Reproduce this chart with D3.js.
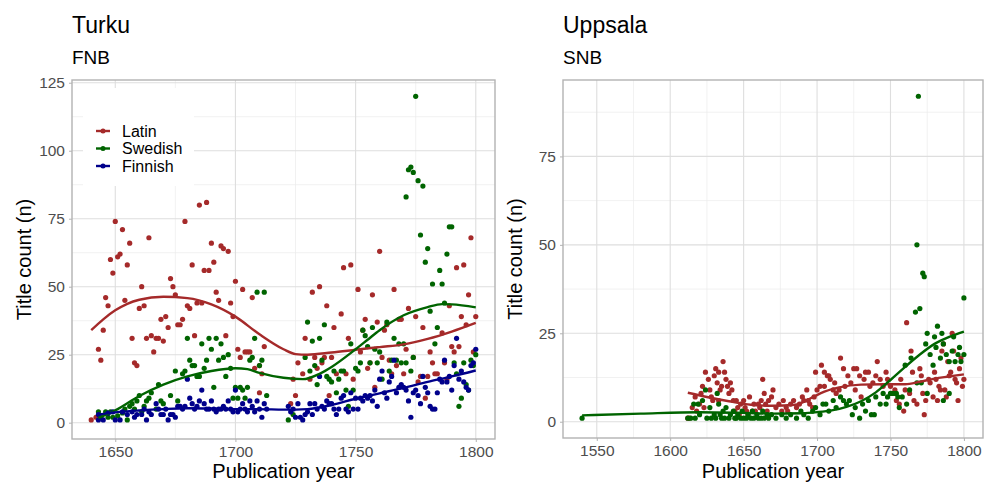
<!DOCTYPE html>
<html>
<head>
<meta charset="utf-8">
<script src="https://cdn.jsdelivr.net/npm/d3@7"></script>
<style>
  body { margin: 0; background: #fff; }
  svg { font-family: "Liberation Sans", Arial, sans-serif; }
</style>
</head>
<body>
<svg id="chart" width="1000" height="500"></svg>
<script>
// Turku (FNB) titles per year
const turkuLatin = [[1640,1],[1642,2],[1643,27],[1644,23],[1645,34],[1646,46],[1647,43],[1648,60],[1649,55],[1650,74],[1651,61],[1652,62],[1653,71],[1654,45],[1655,58],[1656,66],[1657,31],[1658,22],[1659,21],[1660,42],[1661,50],[1662,43],[1663,31],[1664,68],[1665,32],[1666,26],[1667,31],[1668,31],[1669,38],[1670,30],[1671,39],[1672,35],[1673,53],[1674,50],[1675,47],[1676,36],[1677,36],[1678,38],[1679,74],[1680,43],[1681,42],[1682,58],[1683,32],[1684,44],[1685,80],[1686,44],[1687,56],[1688,81],[1689,56],[1690,66],[1691,59],[1692,48],[1693,45],[1694,65],[1695,64],[1696,32],[1697,63],[1698,44],[1699,39],[1700,52],[1701,27],[1702,24],[1703,49],[1704,26],[1705,26],[1706,26],[1707,46],[1708,20],[1710,11],[1710,21],[1711,18],[1712,28],
  [1723,7],[1724,16],[1725,10],[1726,22],[1728,18],[1729,31],[1731,16],[1732,48],[1733,24],[1734,20],[1735,50],[1736,22],[1737,24],[1738,43],[1739,10],[1740,24],[1741,35],[1742,18],[1744,40],[1745,57],[1746,18],[1747,31],[1748,58],[1749,16],[1751,49],[1752,26],[1753,34],[1754,38],[1755,20],[1756,22],[1757,47],[1758,13],[1759,37],[1760,63],[1761,24],[1762,34],[1763,36],[1764,23],[1765,18],[1766,49],[1767,21],[1768,38],[1769,38],[1770,18],[1771,27],[1772,42],[1774,24],[1775,39],[1776,15],[1777,17],[1778,35],[1779,9],[1780,17],[1781,26],[1782,22],[1783,18],[1784,18],[1786,33],[1787,22],[1788,16],[1789,43],[1790,28],[1791,26],[1792,57],[1793,28],[1794,39],[1795,58],[1796,36],[1797,47],[1798,68],[1799,26],[1800,39]];
const turkuSwedish = [[1643,4],[1644,2],[1646,4],[1647,2],[1648,4],[1649,2],[1651,2.5],[1653,3.6],[1654,5],[1655,1],[1656,6],[1657,7],[1658,5],[1659,8],[1660,10],[1661,4],[1662,6],[1663,8],[1664,9],[1665,11],[1667,5],[1668,14],[1669,8],[1670,7],[1673,10],[1675,19],[1676,8],[1678,18],[1679,19],[1680,31],[1681,23],[1682,21],[1683,21],[1684,17],[1685,17],[1686,29],[1687,20],[1688,23],[1689,31],[1690,27],[1691,13],[1692,31],[1693,23],[1694,29],[1695,24],[1696,17],[1697,25],[1698,20],[1699,9],[1700,13],[1701,9],[1702,13],[1703,12],[1704,9],[1705,13],[1706,23],[1707,24],[1708,31],[1709,48],[1710,21],[1711,23],[1712,48],[1713,10],
  [1722,1],[1724,3],[1729,24],[1730,37],[1731,19],[1732,30],[1733,21],[1734,14],[1735,31],[1736,23],[1737,36],[1738,17],[1739,16],[1740,15],[1741,19],[1742,11],[1743,16],[1744,19],[1745,19],[1746,12],[1747,6],[1748,29],[1749,12],[1750,20],[1751,19],[1752,22],[1753,34],[1754,32],[1755,28],[1756,22],[1757,35],[1758,27],[1759,22],[1760,26],[1761,16],[1763,37],[1764,19],[1765,23],[1766,31],[1767,23],[1768,29],[1769,22],[1770,29],[1771,83],[1771,22],[1772,93],[1773,94],[1773,19],[1774,92],[1774,24],[1775,120],[1776,89],[1777,69],[1778,87],[1779,59],[1780,64],[1781,41],[1782,51],[1783,29],[1784,35],[1785,56],[1786,51],[1787,44],[1788,62],[1789,72],[1790,72],[1791,22],[1792,18],[1793,6],[1794,9],[1795,22],[1796,14],[1797,12],[1798,23],[1799,21],[1800,25]];
const turkuFinnish = [[1643,1],[1643,3],[1645,1],[1647,3.5],[1649,4],[1650,1],[1652,1],[1653,4],[1655,3],[1657,4],[1658,2],[1659,3],[1661,3],[1662,5],[1663,1],[1664,4],[1665,3],[1667,7],[1668,5],[1669,3],[1670,3],[1671,5],[1672,1],[1673,3],[1674,3],[1675,2],[1676,6],[1677,6],[1678,5],[1679,6],[1680,16],[1681,9],[1682,7],[1683,5],[1684,6],[1685,8],[1686,12],[1687,7],[1688,5],[1689,5],[1690,8],[1691,5],[1692,4],[1693,5],[1694,5],[1695,6],[1696,5],[1697,8],[1698,5],[1699,4],[1700,12],[1701,4],[1702,5],[1703,7],[1704,5],[1705,4],[1706,8],[1707,6],[1708,4],[1709,8],[1710,5],[1711,2],[1712,7],[1713,5],
  [1722,6],[1723,4],[1724,5],[1725,2],[1726,7],[1727,2],[1728,1],[1729,3],[1730,4],[1731,7],[1732,3],[1733,7],[1734,5],[1735,17],[1736,6],[1737,5],[1738,8],[1739,7],[1740,7],[1741,5],[1742,3],[1743,5],[1744,9],[1745,10],[1746,5],[1747,4],[1748,11],[1749,5],[1750,9],[1751,5],[1752,9],[1753,8],[1754,10],[1755,9],[1756,10],[1757,8],[1758,12],[1759,6],[1760,16],[1761,19],[1762,11],[1763,9],[1764,15],[1765,17],[1766,23],[1767,11],[1768,13],[1769,14],[1770,13],[1771,12],[1772,8],[1773,2],[1774,11],[1775,12],[1776,10],[1777,7],[1778,17],[1779,13],[1780,11],[1781,6],[1782,5],[1783,5],[1784,11],[1785,16],[1786,15],[1787,23],[1788,15],[1789,17],[1790,12],[1791,21],[1792,31],[1793,16],[1794,19],[1795,15],[1796,13],[1797,12],[1798,21],[1799,22],[1800,27]];

// Uppsala (SNB) titles per year
const uppsalaLatin = [[1612,1],[1613,1],[1615,4],[1617,7],[1618,3],[1620,5],[1621,8],[1622,10],[1623,4],[1624,14],[1626,12],[1627,9],[1628,7],[1629,6],[1630,13],[1631,15],[1632,11],[1633,14],[1633,6],[1634,9],[1635,10],[1636,17],[1637,14],[1638,12],[1639,10],[1640,8],[1641,11],[1642,9],[1643,6],[1644,3],[1645,6],[1646,4],[1647,2],[1648,5],[1650,6],[1651,4],[1652,3],[1653,2],[1654,7],[1656,3],[1657,5],[1658,3],[1660,5],[1661,4],[1662,6],[1663,12],[1664,8],[1665,5],[1666,3],[1667,6],[1669,7],[1670,9],[1672,4],[1674,5],[1676,3],[1677,6],[1679,4],[1680,3],[1682,5],[1684,6],[1686,4],[1688,5],[1690,7],[1691,6],[1693,9],[1694,6],[1695,5],[1697,4],[1698,7],[1699,14],[1700,9],[1702,10],[1703,16],[1705,14],[1705,10],[1707,13],[1708,13],[1709,12],[1711,9],[1712,11],[1713,8],[1715,9],[1716,18],[1718,15],[1719,10],[1721,13],[1723,11],[1725,15],[1726,9],[1727,15],[1729,13],[1730,7],[1732,12],[1733,14],[1735,14],[1736,10],[1738,11],[1740,13],[1741,17],[1743,12],[1745,10],[1747,14],[1748,12],[1750,10],[1751,8],[1753,9],[1754,6],[1756,5],[1757,12],[1759,3],[1760,9],[1761,28],[1763,8],[1764,20],[1765,14],[1766,6],[1768,5],[1770,15],[1771,13],[1772,8],[1773,2],[1774,6],[1776,12],[1777,11],[1779,7],[1780,14],[1781,12],[1782,6],[1783,10],[1784,9],[1785,20],[1786,22],[1787,9],[1788,7],[1789,17],[1790,13],[1791,14],[1792,25],[1793,20],[1794,12],[1795,11],[1796,6],[1797,15],[1798,18],[1799,10],[1800,12]];
const uppsalaSwedish = [[1540,1],[1612,1],[1614,1],[1616,5],[1617,1],[1619,5],[1620,2],[1622,6],[1624,9],[1625,1],[1627,4],[1628,1],[1630,2],[1631,1],[1632,8],[1633,5],[1634,2],[1635,1],[1636,3],[1637,1],[1638,4],[1640,1],[1641,2],[1643,3],[1644,1],[1645,1],[1646,2],[1648,1],[1649,3],[1650,1],[1652,1],[1653,2],[1655,1],[1656,3],[1657,1],[1659,2],[1660,1],[1662,1],[1663,3],[1664,1],[1666,2],[1667,1],[1669,2],[1672,1],[1676,2],[1679,1],[1682,2],[1686,1],[1689,3],[1691,2],[1694,1],[1697,3],[1699,4],[1702,2],[1704,5],[1706,5],[1708,3],[1711,6],[1713,4],[1716,7],[1718,6],[1720,5],[1722,6],[1724,2],[1726,4],[1729,1],[1731,5],[1733,3],[1735,6],[1737,2],[1739,2],[1740,7],[1743,5],[1745,8],[1747,5],[1748,7],[1750,8],[1752,8],[1754,8],[1755,7],[1756,4],[1758,7],[1760,16],[1761,5],[1763,9],[1764,18],[1767,31],[1768,11],[1768,50],[1769,92],[1770,32],[1771,11],[1772,42],[1773,41],[1774,22],[1775,8],[1775,25],[1777,19],[1779,16],[1780,24],[1781,21],[1782,27],[1784,18],[1785,25],[1786,22],[1786,6],[1788,19],[1790,17],[1790,8],[1792,20],[1793,24],[1794,17],[1796,19],[1797,21],[1798,17],[1800,35],[1800,19]];

// smoothed trend curves
const turkuLatinTrend = [[1640,34],[1645,38],[1650,41.3],[1655,43.7],[1660,45.2],[1670,46.3],[1680,45.8],[1690,43.5],[1700,39],[1710,32.5],[1720,27],[1725,25.2],[1730,25],[1740,25.8],[1750,26.8],[1760,27.8],[1770,28.8],[1780,30.8],[1790,33.5],[1800,36.7]];
const turkuSwedishTrend = [[1643,1.8],[1650,4.5],[1660,9.8],[1670,14],[1680,17],[1690,19],[1700,20],[1705,19.7],[1710,18.3],[1720,16.5],[1728,16],[1735,18],[1740,20.5],[1750,27],[1755,30.5],[1760,34],[1770,39.5],[1780,42.5],[1786,43.6],[1790,43.5],[1800,42.4]];
const turkuFinnishTrend = [[1643,3],[1650,3.8],[1660,4.5],[1670,5],[1680,5.3],[1690,5.2],[1700,5],[1710,5],[1720,4.8],[1730,5],[1740,6.5],[1750,8.8],[1760,10.8],[1770,12.8],[1780,15],[1790,17],[1800,19.2]];
const uppsalaLatinTrend = [[1612,8.2],[1625,7],[1640,5.8],[1655,4.8],[1670,4.5],[1685,4.8],[1695,6.5],[1705,8.5],[1715,9.7],[1730,10.5],[1745,10.6],[1760,10.6],[1770,11.3],[1780,12.2],[1790,12.8],[1800,13.4]];
const uppsalaSwedishTrend = [[1540,1.8],[1580,2.3],[1620,2.7],[1650,2.5],[1670,2.3],[1690,2.4],[1700,2.7],[1710,3.2],[1720,4.2],[1730,5.8],[1740,8.3],[1750,11.8],[1760,15.5],[1770,19],[1780,22],[1790,24],[1800,25.5]];

const languages = ["Latin", "Swedish", "Finnish"];
const colors = { Latin: "#a52a2a", Swedish: "#006400", Finnish: "#00008b" };

const svg = d3.select("#chart");

function drawPanel(p) {
  const x = d3.scaleLinear().domain(p.xDomain).range([p.left, p.right]);
  const y = d3.scaleLinear().domain(p.yDomain).range([p.bottom, p.top]);
  const g = svg.append("g");

  // minor grid
  g.selectAll(".mx").data(p.xMinor).join("line")
    .attr("x1", d => x(d)).attr("x2", d => x(d))
    .attr("y1", p.top).attr("y2", p.bottom)
    .attr("stroke", "#ebebeb").attr("stroke-width", 0.7);
  g.selectAll(".my").data(p.yMinor).join("line")
    .attr("x1", p.left).attr("x2", p.right)
    .attr("y1", d => y(d)).attr("y2", d => y(d))
    .attr("stroke", "#ebebeb").attr("stroke-width", 0.7);

  // major grid
  g.selectAll(".gx").data(p.xTicks).join("line")
    .attr("x1", d => x(d)).attr("x2", d => x(d))
    .attr("y1", p.top).attr("y2", p.bottom)
    .attr("stroke", "#dedede").attr("stroke-width", 1.1);
  g.selectAll(".gy").data(p.yTicks).join("line")
    .attr("x1", p.left).attr("x2", p.right)
    .attr("y1", d => y(d)).attr("y2", d => y(d))
    .attr("stroke", "#dedede").attr("stroke-width", 1.1);

  // legend box hides the grid under it
  if (p.legend) {
    g.append("rect").attr("x", 83).attr("y", 88).attr("width", 111).attr("height", 98).attr("fill", "#fff");
  }

  // points
  p.series.forEach(s => {
    g.append("g").selectAll("circle").data(s.points).join("circle")
      .attr("cx", d => x(d[0])).attr("cy", d => y(d[1]))
      .attr("r", 2.6).attr("fill", colors[s.lang]);
  });

  // trend lines
  const line = d3.line().x(d => x(d[0])).y(d => y(d[1])).curve(d3.curveMonotoneX);
  p.series.forEach(s => {
    g.append("path").datum(s.trend).attr("d", line)
      .attr("fill", "none").attr("stroke", colors[s.lang]).attr("stroke-width", 2.4);
  });

  // border
  g.append("rect").attr("x", p.left).attr("y", p.top)
    .attr("width", p.right - p.left).attr("height", p.bottom - p.top)
    .attr("fill", "none").attr("stroke", "#b3b3b3").attr("stroke-width", 1.4);

  // axes
  const xAxis = g.append("g").attr("transform", `translate(0,${p.bottom})`)
    .call(d3.axisBottom(x).tickValues(p.xTicks).tickFormat(d3.format("d")).tickSize(3).tickPadding(4));
  const yAxis = g.append("g").attr("transform", `translate(${p.left},0)`)
    .call(d3.axisLeft(y).tickValues(p.yTicks).tickSize(3).tickPadding(4));
  [xAxis, yAxis].forEach(a => {
    a.select(".domain").remove();
    a.selectAll(".tick line").attr("stroke", "#b3b3b3");
    a.selectAll(".tick text").attr("fill", "#4d4d4d").style("font-size", "15.5px")
      .style("font-family", "Liberation Sans, Arial, sans-serif");
  });

  // titles
  svg.append("text").attr("x", p.left).attr("y", 33).text(p.title)
    .style("font-size", "23px").attr("fill", "#000");
  svg.append("text").attr("x", p.left).attr("y", 64).text(p.subtitle)
    .style("font-size", "19px").attr("fill", "#000");
  svg.append("text").attr("x", (p.left + p.right) / 2).attr("y", 478)
    .attr("text-anchor", "middle").text("Publication year")
    .style("font-size", "20px").attr("fill", "#000");
  svg.append("text")
    .attr("transform", `translate(${p.left - 41},${(p.top + p.bottom) / 2}) rotate(-90)`)
    .attr("text-anchor", "middle").text("Title count (n)")
    .style("font-size", "20px").attr("fill", "#000");

  // legend
  if (p.legend) {
    languages.forEach((lang, i) => {
      const cy = 131 + i * 17.5;
      g.append("line").attr("x1", 96).attr("x2", 110).attr("y1", cy).attr("y2", cy)
        .attr("stroke", colors[lang]).attr("stroke-width", 2.4);
      g.append("circle").attr("cx", 103).attr("cy", cy).attr("r", 2.5).attr("fill", colors[lang]);
      g.append("text").attr("x", 122).attr("y", cy + 5.5).text(lang)
        .style("font-size", "16px").attr("fill", "#000");
    });
  }
}

drawPanel({
  title: "Turku", subtitle: "FNB", legend: true,
  left: 72, right: 495, top: 80, bottom: 439,
  xDomain: [1632, 1808], yDomain: [-6, 126],
  xTicks: [1650, 1700, 1750, 1800], xMinor: [1675, 1725, 1775],
  yTicks: [0, 25, 50, 75, 100, 125], yMinor: [12.5, 37.5, 62.5, 87.5, 112.5],
  series: [
    { lang: "Latin", points: turkuLatin, trend: turkuLatinTrend },
    { lang: "Swedish", points: turkuSwedish, trend: turkuSwedishTrend },
    { lang: "Finnish", points: turkuFinnish, trend: turkuFinnishTrend }
  ]
});

drawPanel({
  title: "Uppsala", subtitle: "SNB", legend: false,
  left: 563, right: 983, top: 80, bottom: 438,
  xDomain: [1527, 1813], yDomain: [-4.6, 96.6],
  xTicks: [1550, 1600, 1650, 1700, 1750, 1800], xMinor: [1575, 1625, 1675, 1725, 1775],
  yTicks: [0, 25, 50, 75], yMinor: [12.5, 37.5, 62.5, 87.5],
  series: [
    { lang: "Latin", points: uppsalaLatin, trend: uppsalaLatinTrend },
    { lang: "Swedish", points: uppsalaSwedish, trend: uppsalaSwedishTrend }
  ]
});
</script>
</body>
</html>
